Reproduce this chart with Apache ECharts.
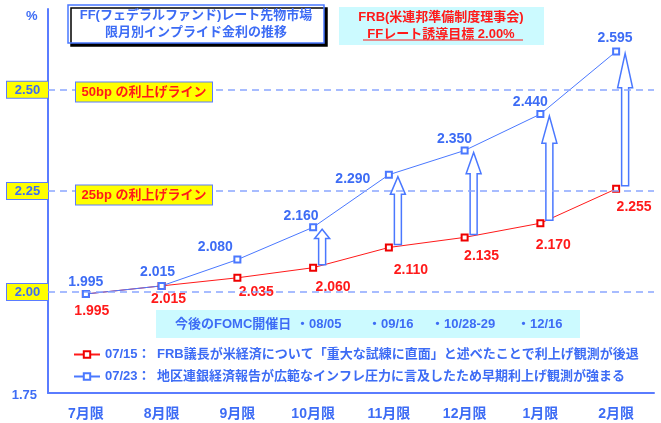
<!DOCTYPE html>
<html>
<head>
<meta charset="utf-8">
<script src="https://cdn.jsdelivr.net/npm/echarts@6/dist/echarts.min.js"></script>
<style>
html, body { margin: 0; padding: 0; background: #fff; }
#main { width: 661px; height: 423px; }
</style>
</head>
<body>
<div id="main"></div>
<script>
// 限月
var months = ['7月限', '8月限', '9月限', '10月限', '11月限', '12月限', '1月限', '2月限'];
// 07/15 時点
var rate0715 = [1.995, 2.015, 2.035, 2.060, 2.110, 2.135, 2.170, 2.255];
// 07/23 時点
var rate0723 = [1.995, 2.015, 2.080, 2.160, 2.290, 2.350, 2.440, 2.595];
// 上向き矢印を描く限月
var arrowMonths = [3, 4, 5, 6, 7];
var yTicks = [1.75, 2.00, 2.25, 2.50];
var fomcDates = ['・08/05', '・09/16', '・10/28-29', '・12/16'];
var legendNames = ['07/15', '07/23'];
var legendTexts = [
    'FRB議長が米経済について「重大な試練に直面」と述べたことで利上げ観測が後退',
    '地区連銀経済報告が広範なインフレ圧力に言及したため早期利上げ観測が強まる'
];

// ラベル位置の微調整
var redOffsets = [[6,17],[7,13],[19,14],[20,19],[22,23],[17,19],[13,22],[18,18]];
var blueOffsets = [[0,-12],[-4,-14],[-22,-12],[-12,-11],[-36,4],[-10,-11],[-10,-12],[-1,-13]];

var ff = "'Liberation Sans','Noto Sans CJK JP',sans-serif";
var BLUE = '#3d6cf5';
var RED = '#ff1a1a';

function withLabels(values, offsets) {
    var out = [];
    for (var i = 0; i < values.length; i++) {
        out.push({ value: values[i], label: { offset: offsets[i] } });
    }
    return out;
}

var arrowData = [];
for (var i = 0; i < arrowMonths.length; i++) {
    var k = arrowMonths[i];
    arrowData.push([k, rate0715[k], rate0723[k]]);
}

function blueText(txt, x, y) {
    return {
        type: 'text', x: x, y: y, z: 11,
        style: { text: txt, verticalAlign: 'middle', fill: BLUE, fontSize: 13, fontWeight: 'bold', fontFamily: ff }
    };
}

var myChart = echarts.init(document.getElementById('main'));

var option = {
    animation: false,
    backgroundColor: '#fff',
    grid: { left: 48, right: 7, top: 9, bottom: 30 },
    xAxis: {
        type: 'category',
        data: months,
        boundaryGap: true,
        axisLine: { lineStyle: { color: '#5a7cff', width: 2 } },
        axisTick: { inside: true, length: 4, lineStyle: { color: '#5a7cff', width: 1 } },
        axisLabel: { color: BLUE, fontSize: 14, fontWeight: 'bold', fontFamily: ff, margin: 14 }
    },
    yAxis: {
        type: 'value',
        min: 1.75,
        max: 2.7,
        interval: 0.25,
        axisLine: { show: true, lineStyle: { color: '#5a7cff', width: 2 } },
        axisTick: { show: false },
        splitLine: { show: false },
        axisLabel: {
            margin: 0,
            showMaxLabel: false,
            formatter: function (v) {
                if (yTicks.indexOf(v) < 0) return '';
                if (v === 1.75) return '{p|' + v.toFixed(2) + '}';
                return '{b|' + v.toFixed(2) + '}';
            },
            rich: {
                b: {
                    color: BLUE, fontSize: 13, fontWeight: 'bold', fontFamily: ff,
                    backgroundColor: '#ffff00', borderColor: '#5a7cff', borderWidth: 1,
                    padding: [2, 4, 1, 4], width: 33, align: 'center'
                },
                p: {
                    color: BLUE, fontSize: 13, fontWeight: 'bold', fontFamily: ff,
                    padding: [4, 11, 0, 0]
                }
            }
        }
    },
    legend: {
        data: legendNames,
        orient: 'vertical',
        left: 68,
        top: 343,
        itemWidth: 26,
        itemHeight: 8,
        itemGap: 9,
        formatter: function (name) {
            var idx = legendNames.indexOf(name);
            return '{a|' + name + '：}{b|' + legendTexts[idx] + '}';
        },
        textStyle: {
            rich: {
                a: { color: BLUE, fontSize: 13, fontWeight: 'bold', fontFamily: ff, width: 52 },
                b: { color: BLUE, fontSize: 13, fontWeight: 'bold', fontFamily: ff }
            }
        }
    },
    series: [
        {
            name: '07/15',
            type: 'line',
            data: withLabels(rate0715, redOffsets),
            symbol: 'emptyRect',
            symbolSize: 6,
            z: 3,
            lineStyle: { color: RED, width: 1 },
            itemStyle: { color: '#ee0000', borderColor: RED },
            label: {
                show: true, position: 'inside',
                color: RED, fontSize: 14, fontWeight: 'bold', fontFamily: ff,
                formatter: function (p) { return p.value.toFixed(3); }
            }
        },
        {
            name: '07/23',
            type: 'line',
            data: withLabels(rate0723, blueOffsets),
            symbol: 'emptyRect',
            symbolSize: 6,
            z: 3,
            lineStyle: { color: '#4a78ff', width: 1 },
            itemStyle: { color: '#4a78ff', borderColor: '#4a78ff' },
            label: {
                show: true, position: 'inside',
                color: BLUE, fontSize: 14, fontWeight: 'bold', fontFamily: ff,
                formatter: function (p) { return p.value.toFixed(3); }
            },
            markLine: {
                silent: true,
                symbol: 'none',
                label: { show: false },
                lineStyle: { color: '#8aa6ff', type: [7, 5], width: 1.5 },
                data: [{ yAxis: 2.00 }, { yAxis: 2.25 }, { yAxis: 2.50 }]
            }
        },
        {
            type: 'custom',
            z: 4,
            silent: true,
            data: arrowData,
            encode: { x: 0, y: 1 },
            renderItem: function (params, api) {
                var p0 = api.coord([api.value(0), api.value(1)]);
                var p1 = api.coord([api.value(0), api.value(2)]);
                var x = p0[0] + 9;
                var yb = p0[1] - 3;
                var yt = p1[1] + 2;
                var hh = (yb - yt) * 0.26;
                var sw = 3.5, hw = 7.5;
                return {
                    type: 'polygon',
                    shape: {
                        points: [
                            [x - sw, yb], [x + sw, yb], [x + sw, yt + hh], [x + hw, yt + hh],
                            [x, yt], [x - hw, yt + hh], [x - sw, yt + hh]
                        ]
                    },
                    style: { fill: '#fff', stroke: '#4a78ff', lineWidth: 1.5 }
                };
            }
        }
    ],
    graphic: [
        // %
        { type: 'text', left: 26, top: 10, style: { text: '%', fill: BLUE, fontSize: 13, fontWeight: 'bold', fontFamily: ff } },
        // タイトル1
        {
            type: 'rect', shape: { x: 68, y: 5, width: 256, height: 38 },
            style: { fill: '#fff', stroke: '#4a78ff', lineWidth: 1.5, shadowColor: '#000', shadowOffsetX: 3, shadowOffsetY: 3, shadowBlur: 0 },
            z: 10
        },
        {
            type: 'text', x: 196, y: 24, z: 11,
            style: {
                text: 'FF(フェデラルファンド)レート先物市場\n限月別インプライド金利の推移',
                align: 'center', verticalAlign: 'middle', lineHeight: 17,
                fill: BLUE, fontSize: 13, fontWeight: 'bold', fontFamily: ff
            }
        },
        // タイトル2
        { type: 'rect', shape: { x: 339, y: 7, width: 205, height: 38 }, style: { fill: '#ccfaff' }, z: 10 },
        {
            type: 'text', x: 441, y: 26, z: 11,
            style: {
                text: 'FRB(米連邦準備制度理事会)\nFFレート誘導目標 2.00%',
                align: 'center', verticalAlign: 'middle', lineHeight: 17,
                fill: RED, fontSize: 13, fontWeight: 'bold', fontFamily: ff
            }
        },
        { type: 'line', shape: { x1: 363, y1: 40, x2: 523, y2: 40 }, style: { stroke: RED, lineWidth: 1 }, z: 11 },
        // 利上げライン
        {
            type: 'text', x: 144, y: 92, z: 10,
            style: {
                text: '50bp の利上げライン', align: 'center', verticalAlign: 'middle',
                fill: RED, fontSize: 13, fontWeight: 'bold', fontFamily: ff,
                backgroundColor: '#ffff00', borderColor: '#5a7cff', borderWidth: 1,
                width: 128, padding: [3, 4, 3, 4]
            }
        },
        {
            type: 'text', x: 144, y: 195, z: 10,
            style: {
                text: '25bp の利上げライン', align: 'center', verticalAlign: 'middle',
                fill: RED, fontSize: 13, fontWeight: 'bold', fontFamily: ff,
                backgroundColor: '#ffff00', borderColor: '#5a7cff', borderWidth: 1,
                width: 128, padding: [3, 4, 3, 4]
            }
        },
        // FOMC
        { type: 'rect', shape: { x: 156, y: 310, width: 424, height: 28 }, style: { fill: '#ccfaff' }, z: 10 },
        blueText('今後のFOMC開催日', 175, 324),
        blueText(fomcDates[0], 296, 324),
        blueText(fomcDates[1], 368, 324),
        blueText(fomcDates[2], 431, 324),
        blueText(fomcDates[3], 517, 324)
    ]
};

myChart.setOption(option);
</script>
</body>
</html>
